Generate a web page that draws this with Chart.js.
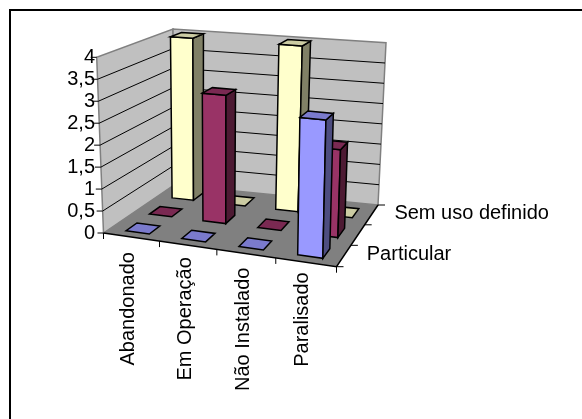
<!DOCTYPE html>
<html>
<head>
<meta charset="utf-8">
<style>
html, body { margin: 0; padding: 0; background: #fff; }
canvas { display: block; }
</style>
<script src="https://cdn.jsdelivr.net/npm/chart.js@4/dist/chart.umd.min.js"></script>
</head>
<body>
<canvas id="chart" width="582" height="419"></canvas>
<script>
const categories = ['Abandonado', 'Em Operação', 'Não Instalado', 'Paralisado'];
// depth axis, front to back; Excel only printed every other name
const seriesNames = ['Particular', '', 'Sem uso definido'];
const particular = [0, 0, 0, 3];
const middleSeries = [0, 3, 0, 2];
const semUso = [4, 0, 4, 0];
const seriesColors = ['#9999FF', '#993366', '#FFFFCC'];
const valueMax = 4;
const valueStep = 0.5;

// corners of the 3D box on screen (front-left, front-right, back-right, back-left)
const floorCorners = [[103.5, 233], [336.5, 266.7], [378, 205], [174, 185]];
const ceilCorners = [[96.7, 57.3], [341, 79], [386, 42.7], [173, 29]];
// gap under the front edge for each rotated category label
const labelDrop = [15, 12, 14, 10];
const barDepth = 0.46;
const fontFamily = '"Liberation Sans", Arial, sans-serif';
const fontSize = 20;

// unit square -> quad. Excel's perspective is milder than a true homography,
// so mix the homography with a plain bilinear map
const homographyWeight = 0.3;
function quadMap(q) {
    const [x0, y0] = q[0], [x1, y1] = q[1], [x2, y2] = q[2], [x3, y3] = q[3];
    const dx1 = x1 - x2, dx2 = x3 - x2, sx = x0 - x1 + x2 - x3;
    const dy1 = y1 - y2, dy2 = y3 - y2, sy = y0 - y1 + y2 - y3;
    const det = dx1 * dy2 - dx2 * dy1;
    const g = (sx * dy2 - dx2 * sy) / det;
    const h = (dx1 * sy - sx * dy1) / det;
    const a = x1 - x0 + g * x1, b = x3 - x0 + h * x3;
    const d = y1 - y0 + g * y1, e = y3 - y0 + h * y3;
    const bilinear = (p0, p1, p2, p3, u, v) =>
        (p0 * (1 - u) + p1 * u) * (1 - v) + (p3 * (1 - u) + p2 * u) * v;
    const mix = (p, r) => p * homographyWeight + r * (1 - homographyWeight);
    return (u, v) => {
        const w = g * u + h * v + 1;
        return [
            mix((a * u + b * v + x0) / w, bilinear(x0, x1, x2, x3, u, v)),
            mix((d * u + e * v + y0) / w, bilinear(y0, y1, y2, y3, u, v))
        ];
    };
}
const floorMap = quadMap(floorCorners);
const ceilMap = quadMap(ceilCorners);

function project(u, v, h) {
    const p = floorMap(u, v), q = ceilMap(u, v);
    return [p[0] + (q[0] - p[0]) * h, p[1] + (q[1] - p[1]) * h];
}

function shade(hex, f) {
    const n = parseInt(hex.slice(1), 16);
    const c = [n >> 16, (n >> 8) & 255, n & 255].map(x => Math.round(x * f));
    return `rgb(${c[0]},${c[1]},${c[2]})`;
}

function poly(ctx, points, fill, stroke, width) {
    ctx.beginPath();
    points.forEach((p, i) => i ? ctx.lineTo(p[0], p[1]) : ctx.moveTo(p[0], p[1]));
    if (fill) {
        ctx.closePath();
        ctx.fillStyle = fill;
        ctx.fill();
    }
    if (stroke) {
        ctx.strokeStyle = stroke;
        ctx.lineWidth = width;
        ctx.stroke();
    }
}

function drawWalls(chart, ctx) {
    const yScale = chart.scales.y;
    poly(ctx, [project(0, 0, 0), project(0, 1, 0), project(0, 1, 1), project(0, 0, 1)], '#C0C0C0', '#808080', 1.5);
    poly(ctx, [project(0, 1, 0), project(1, 1, 0), project(1, 1, 1), project(0, 1, 1)], '#C0C0C0', '#808080', 1.5);
    poly(ctx, [project(0, 0, 0), project(1, 0, 0), project(1, 1, 0), project(0, 1, 0)], '#808080');

    // gridlines on both walls, tick marks on the value axis
    yScale.ticks.forEach(t => {
        const h = t.value / valueMax;
        if (t.value > 0 && t.value < valueMax) {
            poly(ctx, [project(0, 0, h), project(0, 1, h), project(1, 1, h)], null, '#000', 1);
        }
        const p = project(0, 0, h);
        poly(ctx, [[p[0] - 6, p[1]], p], null, '#000', 1);
    });

    // front and right floor edges with their ticks
    poly(ctx, [project(0, 0, 0), project(1, 0, 0), project(1, 1, 0)], null, '#000', 1.5);
    for (let i = 0; i <= categories.length; i++) {
        const p = project(i / categories.length, 0, 0);
        poly(ctx, [p, [p[0], p[1] + 6]], null, '#000', 1);
    }
    for (let i = 0; i <= seriesNames.length; i++) {
        const p = project(1, i / seriesNames.length, 0);
        poly(ctx, [p, [p[0] + 7, p[1]]], null, '#000', 1);
    }
}

function drawBox(ctx, u0, u1, v0, v1, h, color) {
    const line = '#000', lw = 1.5;
    if (h > 0) {
        poly(ctx, [project(u0, v0, 0), project(u1, v0, 0), project(u1, v0, h), project(u0, v0, h)], color, line, lw);
        poly(ctx, [project(u1, v0, 0), project(u1, v1, 0), project(u1, v1, h), project(u1, v0, h)], shade(color, 0.5), line, lw);
    }
    poly(ctx, [project(u0, v0, h), project(u1, v0, h), project(u1, v1, h), project(u0, v1, h)], shade(color, 0.8), line, lw);
}

function drawAxisText(chart, ctx) {
    const xScale = chart.scales.x, depth = chart.scales.depth;
    ctx.fillStyle = '#000';
    ctx.font = `${fontSize}px ${fontFamily}`;
    categories.forEach((name, i) => {
        const u = (xScale.getPixelForValue(i) - xScale.left) / xScale.width;
        const p = project(u, 0, 0);
        ctx.save();
        ctx.translate(p[0] - 3, p[1] + labelDrop[i]);
        ctx.rotate(-Math.PI / 2);
        ctx.textAlign = 'right';
        ctx.textBaseline = 'middle';
        ctx.fillText(name, 0, 0);
        ctx.restore();
    });
    seriesNames.forEach((name, i) => {
        if (!name) return;
        const v = (depth.getPixelForValue(i) - depth.left) / depth.width;
        const p = project(1, v, 0);
        ctx.textAlign = 'left';
        ctx.textBaseline = 'middle';
        ctx.fillText(name, p[0] + 23, p[1] - 1);
    });
}

// the library works out the bars, this turns them into 3D boxes
const box3d = {
    id: 'box3d',
    beforeDraw(chart) {
        const ctx = chart.ctx;
        ctx.fillStyle = '#fff';
        ctx.fillRect(0, 0, chart.width, chart.height);
        // the frame only shows on the top and left, the rest is cropped off
        poly(ctx, [[10, chart.height], [10, 10], [chart.width, 10]], null, '#000', 2);
    },
    beforeDatasetsDraw(chart) {
        const ctx = chart.ctx;
        const { x: xScale, y: yScale, depth } = chart.scales;
        drawWalls(chart, ctx);
        const depthHalf = depth.width / seriesNames.length * barDepth / 2;
        for (let s = chart.data.datasets.length - 1; s >= 0; s--) {
            const v = (depth.getPixelForValue(s) - depth.left) / depth.width;
            const dv = depthHalf / depth.width;
            chart.getDatasetMeta(s).data.forEach(bar => {
                const u0 = (bar.x - bar.width / 2 - xScale.left) / xScale.width;
                const u1 = (bar.x + bar.width / 2 - xScale.left) / xScale.width;
                const h = (yScale.bottom - bar.y) / yScale.height;
                drawBox(ctx, u0, u1, v - dv, v + dv, h, bar.options.backgroundColor);
            });
        }
        drawAxisText(chart, ctx);
        return false;
    }
};

new Chart(document.getElementById('chart'), {
    type: 'bar',
    data: {
        labels: categories,
        datasets: [
            { label: seriesNames[0], data: particular, backgroundColor: seriesColors[0] },
            { label: seriesNames[1], data: middleSeries, backgroundColor: seriesColors[1] },
            { label: seriesNames[2], data: semUso, backgroundColor: seriesColors[2] }
        ]
    },
    options: {
        responsive: false,
        animation: false,
        grouped: false,
        barPercentage: 1,
        categoryPercentage: 0.42,
        layout: { padding: { top: 57, bottom: 186, left: 0, right: 30 } },
        plugins: { legend: { display: false }, tooltip: { enabled: false } },
        scales: {
            x: { display: false },
            depth: { type: 'category', axis: 'x', display: false, offset: true, labels: seriesNames },
            y: {
                min: 0,
                max: valueMax,
                afterFit(scale) { scale.width = 96; },
                grid: { display: false, drawTicks: false },
                border: { display: false },
                ticks: {
                    stepSize: valueStep,
                    padding: 1,
                    autoSkip: false,
                    color: '#000',
                    font: { family: fontFamily, size: fontSize },
                    callback: value => String(value).replace('.', ',')
                }
            }
        }
    },
    plugins: [box3d]
});
</script>
</body>
</html>
